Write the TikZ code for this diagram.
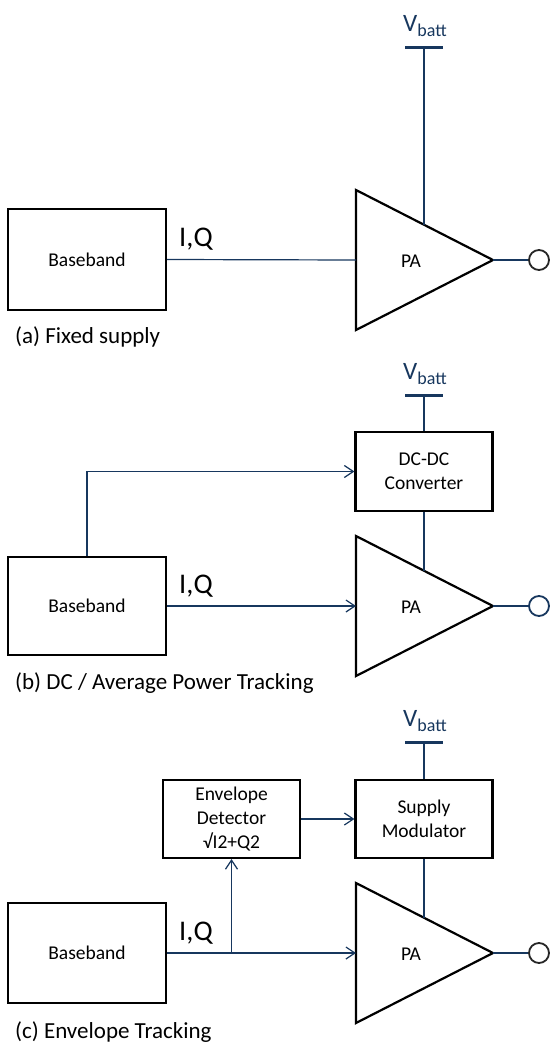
\documentclass[tikz,border=0pt]{standalone}
\usepackage{fontspec}
\setmainfont{Carlito}
\usetikzlibrary{arrows.meta,calc}
\definecolor{navy}{RGB}{23,55,94}
\begin{document}
\begin{tikzpicture}[x=1pt,y=-1pt,
  box/.style={draw=black,line width=2.2pt,fill=white,inner sep=0pt,align=center,font=\fontsize{19.5}{24}\selectfont},
  wire/.style={draw=navy,line width=1.2pt},
  arr/.style={wire,-{Straight Barb[length=9pt,width=12pt]}},
  tri/.style={draw=black,line width=2.2pt,line join=miter},
  pal/.style={inner sep=0pt,font=\fontsize{19.5}{24}\selectfont},
  outc/.style={circle,draw=black!85,line width=1.8pt,fill=white,minimum size=20pt,inner sep=0pt},
  vbar/.style={draw=navy,line width=3pt},
  vlab/.style={inner sep=0pt,text=navy,anchor=base,font=\fontsize{25}{28}\selectfont},
  iq/.style={inner sep=0pt,anchor=base west,font=\fontsize{28.5}{32}\selectfont},
  capt/.style={inner sep=0pt,anchor=base west,font=\fontsize{23}{26}\selectfont}
]
\useasboundingbox (0,0) rectangle (557,1046);
\newcommand{\vbattxt}{V\raisebox{-5pt}{\fontsize{18}{20}\selectfont batt}}

% ---------- (a) ----------
\node[box,minimum width=158pt,minimum height=101pt] (bbA) at (87,259.5) {Baseband};
\coordinate (aTL) at (356,190);
\coordinate (aBL) at (356,330);
\coordinate (aTip) at (493,260);
\coordinate (aIn) at (356,260);
\coordinate (aSup) at (424,224.7);
\draw[tri] (aTL) -- (aTip) -- (aBL) -- cycle;
\node[pal] (paA) at (411,261) {PA};
\draw[wire] (bbA.east) -- (aIn);
\node[outc] (outA) at (539,260) {};
\draw[wire] (aTip) -- (outA.west);
\coordinate (aBar) at (424,48);
\coordinate (aBarL) at (405,48);
\coordinate (aBarR) at (443,48);
\draw[vbar] (aBarL) -- (aBarR);
\draw[wire] (aBar) -- (aSup);
\node[vlab] (vA) at (425,32) {\vbattxt};
\node[iq] (iqA) at (179,246.5) {I,Q};
\node[capt] (capA) at (15,343) {(a) Fixed supply};

% ---------- (b) ----------
\node[box,minimum width=137pt,minimum height=79pt] (dcB) at (424,471.5) {DC-DC\\Converter};
\node[box,minimum width=158pt,minimum height=98pt] (bbB) at (87,606) {Baseband};
\coordinate (bTL) at (356,536);
\coordinate (bBL) at (356,676);
\coordinate (bTip) at (493,606);
\coordinate (bIn) at (356,606);
\coordinate (bSup) at (424,570.7);
\draw[tri] (bTL) -- (bTip) -- (bBL) -- cycle;
\node[pal] (paB) at (411,607) {PA};
\draw[arr] (bbB.east) -- (bIn);
\draw[arr] (bbB.north) |- (dcB.west);
\draw[wire] (dcB.south) -- (bSup);
\node[outc,draw=navy] (outB) at (539,606) {};
\draw[wire] (bTip) -- (outB.west);
\coordinate (bBar) at (424,395);
\coordinate (bBarL) at (405,395);
\coordinate (bBarR) at (443,395);
\draw[vbar] (bBarL) -- (bBarR);
\draw[wire] (bBar) -- (dcB.north);
\node[vlab] (vB) at (425,379) {\vbattxt};
\node[iq] (iqB) at (179,593) {I,Q};
\node[capt] (capB) at (15,689) {(b) DC / Average Power Tracking};

% ---------- (c) ----------
\node[box,minimum width=137pt,minimum height=78pt] (envC) at (231.5,819) {Envelope\\Detector\\√I2+Q2};
\node[box,minimum width=137pt,minimum height=78pt] (smC) at (424,819) {Supply\\Modulator};
\node[box,minimum width=158pt,minimum height=100pt] (bbC) at (87,953) {Baseband};
\coordinate (cTL) at (356,883);
\coordinate (cBL) at (356,1023);
\coordinate (cTip) at (493,953);
\coordinate (cIn) at (356,953);
\coordinate (cSup) at (424,917.7);
\coordinate (cJ) at (envC.south |- bbC.east);
\draw[tri] (cTL) -- (cTip) -- (cBL) -- cycle;
\node[pal] (paC) at (411,954) {PA};
\draw[arr] (bbC.east) -- (cIn);
\draw[arr] (cJ) -- (envC.south);
\draw[arr] (envC.east) -- (smC.west);
\draw[wire] (smC.south) -- (cSup);
\node[outc] (outC) at (539,953) {};
\draw[wire] (cTip) -- (outC.west);
\coordinate (cBar) at (424,742);
\coordinate (cBarL) at (405,742);
\coordinate (cBarR) at (443,742);
\draw[vbar] (cBarL) -- (cBarR);
\draw[wire] (cBar) -- (smC.north);
\node[vlab] (vC) at (425,726) {\vbattxt};
\node[iq] (iqC) at (179,940) {I,Q};
\node[capt] (capC) at (15,1038) {(c) Envelope Tracking};
\end{tikzpicture}
\end{document}
